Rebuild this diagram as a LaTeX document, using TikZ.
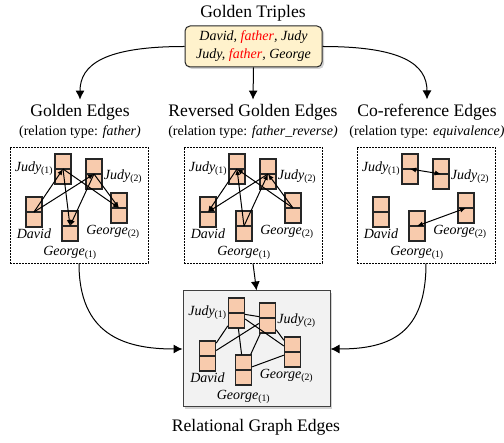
\documentclass[tikz,border=0pt]{standalone}
\usepackage{fontspec}
\setmainfont{Liberation Serif}
\usetikzlibrary{calc,positioning,arrows.meta,shadows}

\definecolor{peach}{HTML}{F8CBAD}
\definecolor{cream}{HTML}{FFF2CC}
\definecolor{boxgray}{HTML}{F2F2F2}

\tikzset{
  ent/.style={draw=black!85, line width=1.3pt, fill=peach, minimum width=16pt, minimum height=30pt, inner sep=0pt,
    path picture={\draw[line width=1.3pt,black!85] (path picture bounding box.west) -- (path picture bounding box.east);}},
  elabel/.style={font=\fontsize{14}{16}\selectfont, inner sep=1pt},
  title/.style={font=\fontsize{17.6}{20}\selectfont, inner sep=5pt},
  subtitle/.style={font=\fontsize{14}{16}\selectfont, inner sep=1pt},
  panel/.style={draw, line width=0.9pt, dash pattern=on 2pt off 1pt, minimum width=138pt, minimum height=116pt},
  flow/.style={-{Latex[length=9pt,width=9pt]}, line width=1pt},
  rel/.style={-{Latex[length=6pt,width=5pt]}, line width=1pt},
  relboth/.style={{Latex[length=6pt,width=5pt]}-{Latex[length=6pt,width=5pt]}, line width=1pt},
}

\begin{document}
\begin{tikzpicture}[x=1pt,y=-1pt]
\useasboundingbox (0,0) rectangle (504,443);

% golden triples
\node[title, anchor=base] (gtt) at (253,18) {Golden Triples};
\node[draw=black!85, line width=1pt, fill=cream, rounded corners=5pt, minimum width=137pt, minimum height=41pt,
  drop shadow={opacity=0.35, shadow xshift=2pt, shadow yshift=-2pt},
  align=center, font=\fontsize{14}{18}\selectfont\itshape] (gt) at (253.5,46.5)
  {David, \textcolor{red}{father}, Judy\\Judy, \textcolor{red}{father}, George};

% titles
\node[title, anchor=base] (ge) at (80,117) {Golden Edges};
\node[subtitle, anchor=base] (gesub) at (80,136) {(relation type: \textit{father)}};
\node[title, anchor=base] (re) at (253,117) {Reversed Golden Edges};
\node[subtitle, anchor=base] (resub) at (253,136) {(relation type: \textit{father\_reverse)}};
\node[title, anchor=base] (ce) at (427,117) {Co-reference Edges};
\node[subtitle, anchor=base] (cesub) at (427,136) {(relation type: \textit{equivalence)}};

% panels
\node[panel] (pg) at (79,205) {};
\node[panel] (pr) at (253,205) {};
\node[panel] (pc) at (426,205) {};
\node[draw=black!75, line width=1pt, fill=boxgray, minimum width=147pt, minimum height=116pt,
  drop shadow={opacity=0.35, shadow xshift=2pt, shadow yshift=-2pt}] (pb) at (256.5,349) {};
\node[title, anchor=base] (rge) at (256,432) {Relational Graph Edges};

% entities
\foreach \p/\dx in {pg/0,pr/0,pc/0,pb/-4}
{
\coordinate (\p o) at ($(\p)+(\dx,0)$);
\node[ent, label={[elabel]left:{\textit{Judy}\textsubscript{(1)}}}] (\p J1) at ($(\p o)+(-16,-36)$) {};
\node[ent, label={[elabel,yshift=-3pt]right:{\textit{Judy}\textsubscript{(2)}}}] (\p J2) at ($(\p o)+(15,-31)$) {};
\node[ent, label={[elabel]below:{\textit{David}}}] (\p D) at ($(\p o)+(-45,7)$) {};
\node[ent, label={[elabel,label distance=3pt]below:{\textit{George}\textsubscript{(1)}}}] (\p G1) at ($(\p o)+(-9,21)$) {};
\node[ent, label={[elabel,xshift=-6pt]below:{\textit{George}\textsubscript{(2)}}}] (\p G2) at ($(\p o)+(40,3)$) {};
}

% edges
\foreach \a/\b in {D/J1,D/J2,J1/G1,J1/G2,J2/G1,J2/G2}
{
\draw[rel] (pg\a.center) -- (pg\b.center);
\draw[rel] (pr\b.center) -- (pr\a.center);
\draw[line width=1pt] (pb\a) -- (pb\b);
}
\draw[relboth] (pcJ1.center) -- (pcJ2.center);
\draw[relboth] (pcG1.center) -- (pcG2.center);
\draw[line width=1pt] (pbJ1) -- (pbJ2);
\draw[line width=1pt] (pbG1) -- (pbG2);

% flow
\draw[flow] (gt.west) .. controls ($(gt.west)+(-80,0)$) and ($(ge.north)+(0,-35)$) .. (ge.north);
\draw[flow] (gt.south) -- (re.north);
\draw[flow] (gt.east) .. controls ($(gt.east)+(80,0)$) and ($(ce.north)+(0,-35)$) .. (ce.north);
\draw[flow] (pg.south) .. controls ($(pg.south)+(0,70)$) and ($(pb.west)+(-60,0)$) .. (pb.west);
\draw[flow] (pr.south) -- (pb.north);
\draw[flow] (pc.south) .. controls ($(pc.south)+(0,70)$) and ($(pb.east)+(60,0)$) .. (pb.east);

\end{tikzpicture}
\end{document}
